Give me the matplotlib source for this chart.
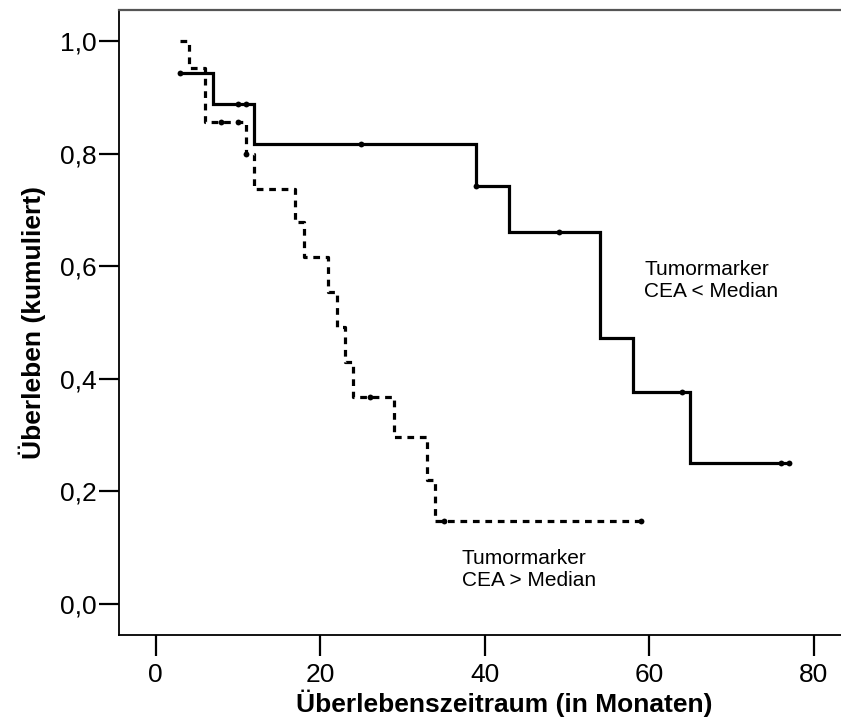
import matplotlib
matplotlib.use("Agg")
import matplotlib.pyplot as plt
import numpy as np

plt.rcParams['font.family'] = ['Liberation Sans', 'DejaVu Sans']

# Kaplan-Meier estimates, CEA below median (step times in months, survival after step)
low_times = [3, 7, 12, 39, 43, 54, 58, 65, 77]
low_surv = [0.944, 0.889, 0.817, 0.742, 0.660, 0.472, 0.377, 0.251, 0.251]
low_censored = [3, 10, 11, 25, 39, 49, 64, 76, 77]

# Kaplan-Meier estimates, CEA above median
high_times = [3, 4, 6, 11, 12, 17, 18, 21, 22, 23, 24, 29, 33, 34, 59]
high_surv = [1.0, 0.952, 0.857, 0.800, 0.738, 0.679, 0.616, 0.554, 0.492,
             0.430, 0.368, 0.296, 0.220, 0.148, 0.148]
high_censored = [8, 10, 11, 26, 35, 59]

x_ticks = [0, 20, 40, 60, 80]
y_ticks = [0.0, 0.2, 0.4, 0.6, 0.8, 1.0]
y_tick_labels = ["0,0", "0,2", "0,4", "0,6", "0,8", "1,0"]


def surv_at(times, surv, t):
    idx = np.searchsorted(times, t, side='right') - 1
    idx = max(idx, 0)
    return surv[idx]


W, H = 841, 722
fig = plt.figure(figsize=(W / 100, H / 100), dpi=100)
ax = fig.add_axes([119 / W, 1 - 635 / H, 722 / W, (635 - 9.5) / H])

lw = 2.3
ax.step(low_times, low_surv, where='post', color='black', lw=lw,
        solid_joinstyle='miter')
ax.step(high_times, high_surv, where='post', color='black', lw=lw,
        linestyle=(0, (2.1, 1.8)), dash_capstyle='butt')

ax.plot(low_censored, [surv_at(low_times, low_surv, t) for t in low_censored],
        'o', color='black', ms=4.2, mew=0)
ax.plot(high_censored, [surv_at(high_times, high_surv, t) for t in high_censored],
        'o', color='black', ms=4.2, mew=0)

ax.text(59.4, 0.584, "Tumormarker", fontsize=15, va='baseline', ha='left')
ax.text(59.4, 0.545, "CEA < Median", fontsize=15, va='baseline', ha='left')
ax.text(37.2, 0.071, "Tumormarker", fontsize=15, va='baseline', ha='left')
ax.text(37.2, 0.032, "CEA > Median", fontsize=15, va='baseline', ha='left')

ax.set_xlim(-4.45, 83.31)
ax.set_ylim(-0.0551, 1.056)
ax.set_xticks(x_ticks)
ax.set_yticks(y_ticks)
ax.set_yticklabels(y_tick_labels)

ax.tick_params(axis='x', direction='out', length=15, width=1.6, labelsize=19, pad=5)
ax.tick_params(axis='y', direction='out', length=14.5, width=1.6, labelsize=19, pad=1.5)

ax.spines['right'].set_visible(False)
ax.spines['left'].set_linewidth(1.3)
ax.spines['bottom'].set_linewidth(1.3)
ax.spines['top'].set_linewidth(1.6)
ax.spines['top'].set_color('#555555')

ax.set_xlabel("Überlebenszeitraum (in Monaten)", fontsize=19, fontweight='bold', va='center')
ax.xaxis.set_label_coords(0.533, -0.1087)
ax.set_ylabel("Überleben (kumuliert)", fontsize=19, fontweight='bold', va='center')
ax.yaxis.set_label_coords(-0.1205, 0.50)

fig.savefig("out.png", dpi=100)
